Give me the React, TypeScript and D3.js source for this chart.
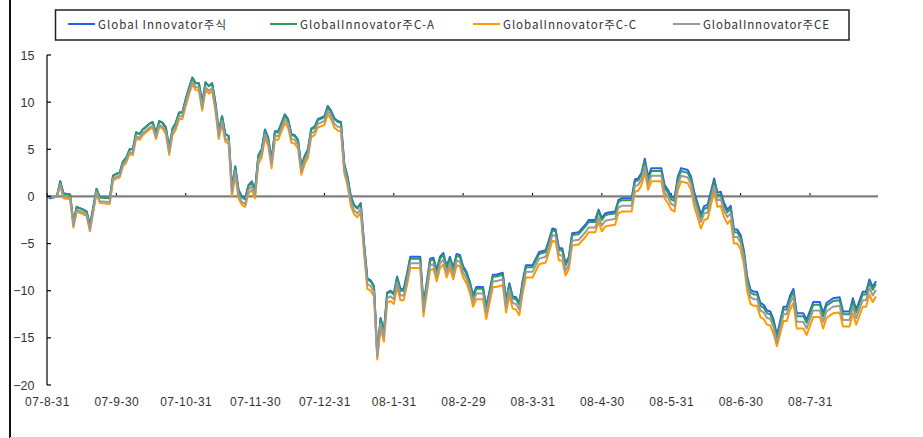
import React from 'react';
import * as d3 from 'd3';

// trading-day index (0 = 07-8-31)
const tradingDays = [
  0, 1, 3, 4, 5, 7, 8, 9, 11, 12,
  13, 15, 16, 19, 20, 21, 22, 23, 24, 25,
  26, 27, 28, 29, 30, 31, 32, 33, 34, 35,
  36, 37, 38, 39, 40, 41, 42, 43, 44, 45,
  46, 47, 48, 49, 50, 51, 52, 53, 54, 55,
  56, 57, 58, 59, 60, 61, 62, 63, 64, 65,
  66, 67, 68, 69, 70, 71, 72, 73, 74, 75,
  76, 77, 78, 79, 80, 81, 82, 84, 85, 86,
  87, 88, 89, 90, 91, 92, 93, 94, 95, 96,
  97, 98, 99, 100, 101, 102, 103, 104, 105, 106,
  107, 108, 109, 110, 113, 114, 116, 117, 118, 119,
  120, 121, 122, 123, 124, 125, 126, 127, 128, 129,
  130, 132, 133, 135, 136, 138, 139, 140, 141, 142,
  143, 144, 145, 147, 149, 151, 152, 153, 154, 155,
  156, 157, 158, 159, 161, 162, 163, 164, 166, 167,
  168, 169, 170, 172, 173, 174, 177, 178, 179, 180,
  181, 182, 183, 186, 187, 188, 189, 190, 191, 192,
  194, 195, 196, 198, 199, 200, 202, 203, 204, 205,
  206, 207, 208, 209, 210, 211, 212, 213, 214, 215,
  216, 217, 218, 219, 220, 221, 223, 224, 225, 226,
  227, 229, 230, 232, 234, 235, 236, 238, 240, 241,
  243, 244, 245, 247, 248, 249, 250, 251,
];

const stockFund = [
  0, -0.2, 0, 1.6, 0.3, 0.2, -2.8, -1.1, -1.4, -1.6,
  -3.1, 0.8, -0.1, -0.2, 2.2, 2.4, 2.5, 3.7, 4.1, 5.0,
  5.0, 6.8, 6.6, 7.1, 7.4, 7.7, 7.9, 6.7, 8.0, 7.8,
  7.3, 5.1, 7.2, 7.8, 8.9, 8.9, 10.3, 11.5, 12.6, 12.0,
  12.0, 9.9, 12.1, 11.7, 12.0, 9.9, 6.9, 8.5, 6.6, 6.4,
  0.9, 3.2, 0.7, 0.0, -0.2, 1.2, 1.6, 0.7, 4.4, 5.0,
  7.1, 6.2, 3.9, 6.9, 6.9, 7.8, 8.7, 8.2, 6.6, 6.5,
  6.0, 3.2, 4.3, 5.0, 7.2, 7.4, 8.2, 8.5, 9.6, 9.1,
  8.3, 8.0, 7.9, 3.5, 2.1, 0.0, -0.9, -1.2, -0.7, -5.0,
  -8.7, -8.9, -9.5, -16.6, -12.9, -14.3, -10.2, -10.0, -10.3, -8.5,
  -9.8, -9.8, -8.2, -6.4, -6.4, -11.5, -6.6, -6.5, -7.8, -6.4,
  -6.0, -7.4, -6.4, -7.6, -6.1, -6.2, -7.4, -8.0, -9.0, -10.5,
  -9.6, -9.6, -11.7, -8.3, -8.3, -8.1, -11.0, -9.2, -10.6, -10.7,
  -11.3, -9.0, -7.3, -7.3, -5.9, -5.7, -4.6, -3.4, -3.5, -5.5,
  -5.5, -7.1, -6.4, -3.9, -3.8, -3.4, -3.0, -2.5, -2.5, -1.4,
  -2.3, -1.8, -1.7, -1.6, -0.4, -0.2, -0.2, 1.8, 1.9, 2.5,
  4.0, 2.1, 3.0, 3.0, 1.2, 0.7, 0.0, -0.2, 2.1, 3.0,
  2.8, 2.1, 0.4, -1.9, -1.0, -0.9, 1.9, 0.4, 0.5, -0.7,
  -1.4, -1.0, -3.5, -3.5, -4.1, -5.7, -8.5, -9.9, -10.1, -10.1,
  -11.3, -11.5, -12.1, -12.2, -13.1, -14.7, -11.7, -11.7, -10.5, -9.8,
  -12.4, -12.4, -13.1, -11.2, -11.2, -12.4, -11.3, -10.8, -10.7, -12.2,
  -12.2, -10.8, -12.0, -10.1, -10.1, -8.8, -9.6, -9.0,
];

const classCA = [
  0, 0, 0, 1.6, 0.3, 0.2, -2.8, -1.1, -1.4, -1.6,
  -3.1, 0.8, -0.1, -0.2, 2.2, 2.4, 2.5, 3.7, 4.1, 5.0,
  5.0, 6.8, 6.6, 7.1, 7.4, 7.7, 7.9, 6.7, 8.0, 7.8,
  7.3, 5.1, 7.2, 7.8, 8.9, 8.9, 10.3, 11.5, 12.6, 12.0,
  12.0, 9.9, 12.1, 11.7, 12.0, 9.9, 6.9, 8.5, 6.6, 6.4,
  0.8, 3.1, 0.6, -0.1, -0.3, 1.1, 1.5, 0.6, 4.3, 4.9,
  7.0, 6.1, 3.8, 6.8, 6.8, 7.7, 8.6, 8.1, 6.5, 6.4,
  5.9, 3.1, 4.2, 4.9, 7.1, 7.3, 8.1, 8.4, 9.5, 9.0,
  8.2, 7.9, 7.8, 3.4, 2.0, -0.1, -1.0, -1.3, -0.8, -5.1,
  -8.8, -9.0, -9.6, -16.8, -13.0, -14.4, -10.3, -10.1, -10.4, -8.6,
  -10.0, -10.0, -8.4, -6.6, -6.6, -11.7, -6.8, -6.7, -8.0, -6.6,
  -6.2, -7.6, -6.6, -7.8, -6.3, -6.4, -7.6, -8.2, -9.2, -10.7,
  -9.8, -9.8, -11.9, -8.5, -8.5, -8.3, -11.2, -9.4, -10.8, -10.9,
  -11.5, -9.2, -7.5, -7.5, -6.1, -5.9, -4.8, -3.6, -3.7, -5.7,
  -5.7, -7.3, -6.6, -4.1, -4.0, -3.6, -3.2, -2.7, -2.7, -1.6,
  -2.5, -2.0, -1.9, -1.8, -0.6, -0.4, -0.4, 1.6, 1.7, 2.3,
  3.7, 1.8, 2.7, 2.7, 0.9, 0.4, -0.3, -0.5, 1.8, 2.7,
  2.5, 1.8, 0.1, -2.2, -1.3, -1.2, 1.6, 0.1, 0.2, -1.0,
  -1.7, -1.3, -3.8, -3.8, -4.4, -6.0, -8.8, -10.2, -10.4, -10.4,
  -11.6, -11.8, -12.4, -12.5, -13.4, -15.0, -12.0, -12.0, -10.8, -10.1,
  -12.7, -12.7, -13.4, -11.5, -11.5, -12.7, -11.6, -11.1, -11.0, -12.5,
  -12.5, -11.1, -12.3, -10.4, -10.4, -9.1, -9.9, -9.3,
];

const classCE = [
  0, 0, 0, 1.3, 0.0, -0.1, -3.1, -1.4, -1.7, -1.9,
  -3.5, 0.5, -0.5, -0.6, 1.9, 2.1, 2.2, 3.4, 3.8, 4.7,
  4.6, 6.4, 6.2, 6.7, 7.0, 7.3, 7.5, 6.3, 7.6, 7.4,
  6.9, 4.7, 6.8, 7.4, 8.5, 8.5, 9.9, 11.1, 12.2, 11.6,
  11.5, 9.4, 11.6, 11.2, 11.5, 9.4, 6.4, 8.0, 6.1, 5.9,
  0.4, 2.7, 0.2, -0.6, -0.8, 0.7, 1.1, 0.2, 3.9, 4.5,
  6.6, 5.7, 3.4, 6.4, 6.4, 7.3, 8.2, 7.7, 6.1, 6.0,
  5.5, 2.7, 3.8, 4.5, 6.7, 6.9, 7.7, 8.0, 9.1, 8.6,
  7.7, 7.4, 7.3, 2.9, 1.5, -0.6, -1.5, -1.8, -1.3, -5.6,
  -9.3, -9.5, -10.1, -17.0, -13.5, -14.9, -10.8, -10.6, -10.9, -9.1,
  -10.5, -10.5, -8.9, -7.1, -7.1, -12.2, -7.3, -7.2, -8.5, -7.1,
  -6.7, -8.1, -7.1, -8.3, -6.8, -6.9, -8.1, -8.7, -9.7, -11.2,
  -10.3, -10.3, -12.4, -9.0, -9.0, -8.8, -11.7, -9.9, -11.3, -11.4,
  -12.0, -9.7, -8.0, -8.0, -6.6, -6.4, -5.3, -4.1, -4.2, -6.2,
  -6.3, -7.9, -7.2, -4.7, -4.6, -4.2, -3.8, -3.3, -3.3, -2.2,
  -3.1, -2.6, -2.5, -2.4, -1.2, -1.0, -1.0, 1.1, 1.2, 1.8,
  3.2, 1.3, 2.2, 2.2, 0.4, -0.1, -0.8, -1.0, 1.3, 2.2,
  2.0, 1.3, -0.4, -2.7, -1.8, -1.7, 1.1, -0.4, -0.3, -1.5,
  -2.2, -1.8, -4.3, -4.3, -4.9, -6.5, -9.3, -10.7, -10.9, -10.9,
  -12.1, -12.3, -12.9, -13.0, -13.9, -15.5, -12.5, -12.5, -11.3, -10.6,
  -13.3, -13.3, -14.0, -12.1, -12.1, -13.3, -12.2, -11.7, -11.6, -13.1,
  -13.1, -11.7, -12.9, -11.0, -11.0, -9.7, -10.5, -9.9,
];

const classCC = [
  0, 0, 0, 1.1, -0.2, -0.3, -3.3, -1.6, -1.9, -2.1,
  -3.7, 0.3, -0.7, -0.8, 1.7, 1.9, 2.0, 3.2, 3.6, 4.5,
  4.4, 6.2, 6.0, 6.5, 6.8, 7.1, 7.3, 6.1, 7.4, 7.2,
  6.6, 4.4, 6.5, 7.1, 8.2, 8.2, 9.6, 10.8, 11.9, 11.3,
  11.2, 9.1, 11.3, 10.9, 11.2, 9.1, 6.1, 7.7, 5.8, 5.6,
  0.0, 2.3, -0.2, -0.9, -1.1, 0.3, 0.7, -0.2, 3.5, 4.1,
  6.2, 5.3, 3.0, 6.0, 6.0, 6.9, 7.8, 7.3, 5.7, 5.6,
  5.1, 2.3, 3.4, 4.1, 6.3, 6.5, 7.3, 7.6, 8.7, 8.2,
  7.3, 7.0, 6.9, 2.5, 1.1, -1.0, -1.9, -2.2, -1.7, -6.0,
  -9.8, -10.0, -10.6, -17.3, -14.0, -15.4, -11.3, -11.1, -11.4, -9.6,
  -11.0, -11.0, -9.4, -7.6, -7.6, -12.7, -7.8, -7.7, -9.0, -7.6,
  -7.2, -8.6, -7.6, -8.8, -7.3, -7.4, -8.6, -9.2, -10.2, -11.7,
  -10.9, -10.9, -13.0, -9.6, -9.6, -9.4, -12.3, -10.5, -11.9, -12.0,
  -12.6, -10.3, -8.6, -8.6, -7.2, -7.0, -5.9, -4.7, -4.8, -6.8,
  -6.8, -8.4, -7.7, -5.2, -5.1, -4.7, -4.3, -3.8, -3.8, -2.7,
  -3.7, -3.2, -3.1, -3.0, -1.8, -1.6, -1.6, 0.5, 0.6, 1.2,
  2.6, 0.7, 1.6, 1.6, -0.2, -0.7, -1.4, -1.6, 0.7, 1.6,
  1.4, 0.7, -1.1, -3.4, -2.5, -2.4, 0.5, -1.1, -1.0, -2.2,
  -2.9, -2.5, -5.0, -5.0, -5.6, -7.2, -10.0, -11.4, -11.6, -11.6,
  -12.8, -13.0, -13.6, -13.7, -14.6, -15.9, -13.2, -13.2, -12.0, -11.3,
  -14.0, -14.0, -14.7, -12.8, -12.8, -14.0, -12.9, -12.4, -12.3, -13.8,
  -13.8, -12.4, -13.6, -11.7, -11.7, -10.4, -11.2, -10.6,
];

const tickDays = [0, 21, 42, 63, 84, 105, 126, 147, 168, 189, 210, 231];
const tickLabels = [
  '07-8-31', '07-9-30', '07-10-31', '07-11-30', '07-12-31', '08-1-31',
  '08-2-29', '08-3-31', '08-4-30', '08-5-31', '08-6-30', '08-7-31',
];
const yTicks = [15, 10, 5, 0, -5, -10, -15, -20];

const seriesNames = [
  'Global Innovator주식',
  'GlobalInnovator주C-A',
  'GlobalInnovator주C-C',
  'GlobalInnovator주CE',
];
const seriesColors = ['#2B5DF2', '#2E9A62', '#FF9A00', '#9A9A9A'];
const seriesData = [stockFund, classCA, classCC, classCE];

// legend layout
const legendLineX = [68, 270, 473, 673];
const legendTextW = [128, 134, 133, 126];

export default function App() {
  const x = d3.scaleLinear().domain([0, 251]).range([47, 876]);
  const y = d3.scaleLinear().domain([-20, 15]).range([385, 55]);
  const line = d3
    .line<number>()
    .x((_, i) => x(tradingDays[i]))
    .y((d) => y(d));

  const axisFont = '"Liberation Sans", Arial, sans-serif';
  const legendFont = '"Noto Sans CJK KR", "Noto Sans", sans-serif';

  return (
    <svg
      width={923}
      height={438}
      style={{ position: 'absolute', left: 0, top: 0, background: '#fff' }}
    >
      <rect x={0} y={0} width={923} height={438} fill="#fff" />
      {/* outer frame */}
      <line x1={10} y1={0} x2={10} y2={438} stroke="#111" strokeWidth={2} />
      <line x1={10} y1={437.5} x2={923} y2={437.5} stroke="#d0d0d0" strokeWidth={1} />

      {/* legend */}
      <rect x={55.5} y={10} width={793.5} height={30} fill="#fff" stroke="#222" strokeWidth={1.5} />
      {seriesNames.map((name, i) => (
        <g key={name}>
          <line
            x1={legendLineX[i]}
            x2={legendLineX[i] + 27}
            y1={24}
            y2={24}
            stroke={seriesColors[i]}
            strokeWidth={2}
          />
          <text
            x={legendLineX[i] + 30}
            y={28.5}
            fontFamily={legendFont}
            fontSize={11.5}
            fill="#333"
            textLength={legendTextW[i]}
            lengthAdjust="spacing"
          >
            {name}
          </text>
        </g>
      ))}

      {/* zero line */}
      <line x1={47} x2={878} y1={y(0)} y2={y(0)} stroke="#808080" strokeWidth={2.2} />
      {tickDays.map((d) => (
        <line key={'xt' + d} x1={x(d)} x2={x(d)} y1={y(0) - 3.5} y2={y(0) - 1} stroke="#000" strokeWidth={1} />
      ))}

      {/* series */}
      {seriesData.map((vals, i) => (
        <path
          key={'s' + i}
          d={line(vals) || ''}
          fill="none"
          stroke={seriesColors[i]}
          strokeWidth={2}
          strokeLinejoin="round"
        />
      ))}

      {/* y axis */}
      <line x1={47} x2={47} y1={55} y2={385} stroke="#000" strokeWidth={1.2} />
      {yTicks.map((t) => (
        <g key={'yt' + t}>
          <line x1={47} x2={51} y1={y(t)} y2={y(t)} stroke="#000" strokeWidth={1.2} />
          <text
            x={34.5}
            y={y(t)}
            dy="0.36em"
            textAnchor="end"
            fontFamily={axisFont}
            fontSize={12.5}
            fill="#333"
          >
            {t < 0 ? '−' + Math.abs(t) : String(t)}
          </text>
        </g>
      ))}

      {/* x labels */}
      {tickDays.map((d, i) => (
        <text
          key={'xl' + d}
          x={x(d) + 0.5}
          y={406}
          textAnchor="middle"
          fontFamily={axisFont}
          fontSize={12}
          letterSpacing={0.5}
          fill="#333"
        >
          {tickLabels[i]}
        </text>
      ))}
    </svg>
  );
}
